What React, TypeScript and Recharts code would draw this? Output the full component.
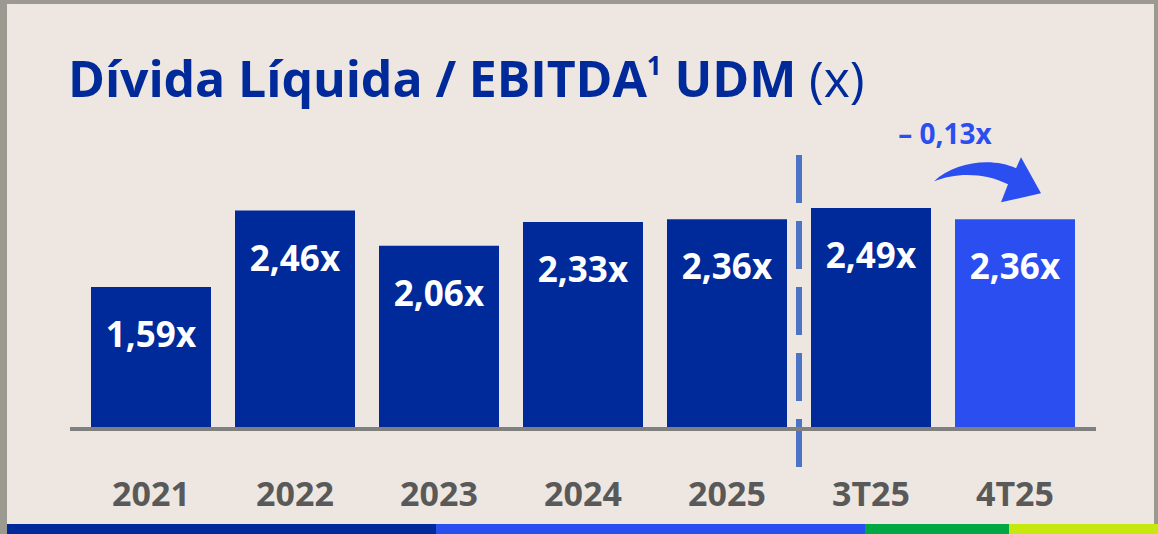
import { BarChart, Bar, XAxis, YAxis, Cell, LabelList, ReferenceLine, ReferenceDot } from "recharts";

const periods = ["2021", "2022", "2023", "2024", "2025", "3T25", "4T25"];
const leverage = [1.59, 2.46, 2.06, 2.33, 2.36, 2.49, 2.36];
const highlightPeriod = "4T25";
const splitPeriod = "3T25";
const changeLabel = "– 0,13x";

const data = periods.map((period, i) => ({ period, value: leverage[i] }));

const NAVY = "#002A9A";
const BRIGHT = "#2B4EF0";
const FONT = "'Open Sans', sans-serif";

const stripe = [
  { color: NAVY, width: 429 },
  { color: BRIGHT, width: 429 },
  { color: "#00A843", width: 144 },
  { color: "#C6E80E", width: 149 },
];

const fmt = (v: number) => v.toFixed(2).replace(".", ",") + "x";

function PeriodTick({ x, y, payload }: any) {
  return (
    <text x={x} y={y + 77} textAnchor="middle" fontFamily={FONT} fontSize={34} fontWeight={700} fill="#595959">
      {payload.value}
    </text>
  );
}

function ValueLabel({ x, y, width, value }: any) {
  return (
    <text
      x={x + width / 2}
      y={y + 60}
      textAnchor="middle"
      fontFamily={FONT}
      fontSize={35}
      fontWeight={700}
      fill="#FFFFFF"
    >
      {fmt(value)}
    </text>
  );
}

function SplitLine(p: any) {
  const top = Math.min(p.y1, p.y2);
  const bottom = Math.max(p.y1, p.y2);
  return (
    <line x1={p.x1} x2={p.x2} y1={top - 8} y2={bottom + 38} stroke="#4B74C6" strokeWidth={6} strokeDasharray="48 18" />
  );
}

function ChangeArrow({ cx, cy }: any) {
  return (
    <g transform={`translate(${cx},${cy})`}>
      <text x={-70} y={-75} textAnchor="middle" fontFamily={FONT} fontSize={28} fontWeight={700} fill={BRIGHT}>
        {changeLabel}
      </text>
      <path
        d="M -81 -38 C -60 -58, -22 -62, 1 -51 L 6 -62 L 26 -26 L -14 -17 L -7 -35 C -30 -47, -60 -47, -81 -38 Z"
        fill={BRIGHT}
      />
    </g>
  );
}

export default function App() {
  return (
    <div style={{ position: "absolute", left: 0, top: 0, width: 1158, height: 534, background: "#9C9991", overflow: "hidden" }}>
      <div style={{ position: "absolute", left: 7, top: 4, width: 1147, height: 530, background: "#EEE7E1" }} />
      <div
        style={{
          position: "absolute",
          left: 68,
          top: 30,
          fontFamily: FONT,
          fontSize: 50,
          fontWeight: 700,
          color: NAVY,
          whiteSpace: "nowrap",
          lineHeight: "70px",
          letterSpacing: -0.1,
        }}
      >
        Dívida Líquida / EBITDA<sup style={{ fontSize: 26, verticalAlign: 22 }}>1</sup> UDM{" "}
        <span style={{ fontWeight: 400 }}>(x)</span>
      </div>
      <div style={{ position: "absolute", left: 0, top: 0 }}>
        <BarChart width={1158} height={534} data={data} margin={{ top: 163, right: 62, bottom: 0, left: 70 }}>
          <XAxis
            dataKey="period"
            height={105}
            padding={{ left: 9, right: 9 }}
            axisLine={{ stroke: "#808080", strokeWidth: 4 }}
            tickLine={false}
            tickSize={0}
            tickMargin={0}
            tick={<PeriodTick />}
            interval={0}
          />
          <YAxis hide width={0} domain={[-0.0226, 3]} />
          <Bar dataKey="value" barSize={120} isAnimationActive={false}>
            {data.map((d) => (
              <Cell key={d.period} fill={d.period === highlightPeriod ? BRIGHT : NAVY} />
            ))}
            <LabelList dataKey="value" content={<ValueLabel />} />
          </Bar>
          <ReferenceLine x={splitPeriod} position="start" stroke="#4B74C6" shape={SplitLine} />
          <ReferenceDot
            x={highlightPeriod}
            y={leverage[periods.indexOf(highlightPeriod)]}
            shape={ChangeArrow}
          />
        </BarChart>
      </div>
      <div style={{ position: "absolute", left: 7, top: 524, height: 10, display: "flex" }}>
        {stripe.map((s) => (
          <div key={s.color} style={{ width: s.width, height: 10, background: s.color }} />
        ))}
      </div>
    </div>
  );
}
